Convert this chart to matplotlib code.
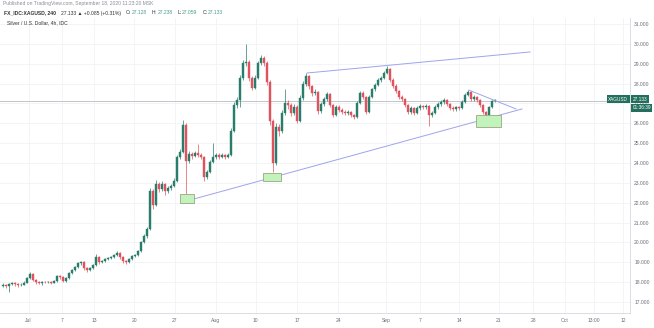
import numpy as np
import matplotlib
matplotlib.use("Agg")
import matplotlib.pyplot as plt
from matplotlib.patches import Rectangle

plt.rcParams["font.family"] = ["Liberation Sans", "DejaVu Sans"]

# -----------------------------
# XAGUSD 4h candles (each entry ~ half a day), Jun 26 -> Sep 18 2020
# -----------------------------
closes = [
    17.85, 17.80, 17.90, 17.95, 17.90, 17.85, 17.88, 17.98, 18.20, 18.40,
    18.10, 18.00, 17.98, 18.02, 18.00, 18.02, 17.98, 18.05, 18.30, 18.25,
    18.05, 18.20, 18.45, 18.60, 18.75, 18.95, 19.00, 18.70, 18.60, 18.70,
    18.85, 19.25, 19.00, 19.05, 19.15, 19.20, 19.25, 19.35, 19.45, 19.25,
    19.05, 19.00, 19.15, 19.30, 19.35, 19.55, 20.00, 20.30, 20.70, 22.60,
    21.90, 22.95, 22.70, 22.95, 22.60, 22.75, 22.85, 23.10, 24.30, 24.55,
    25.90, 24.10, 24.45, 24.35, 24.50, 24.40, 24.30, 23.30, 23.55, 24.05,
    24.30, 24.40, 24.30, 24.40, 24.30, 24.40, 25.60, 26.90, 27.15, 28.30,
    29.05, 29.10, 28.30, 27.80, 28.30, 29.05, 29.30, 29.05, 28.10, 26.10,
    24.00, 25.80, 25.60, 26.50, 27.00, 26.90, 26.50, 26.80, 26.10, 27.25,
    28.00, 28.40, 27.90, 27.50, 27.55, 26.60, 26.95, 27.20, 27.45, 26.90,
    26.40, 26.80, 26.65, 26.55, 26.50, 26.55, 26.40, 26.30, 27.00, 27.50,
    27.30, 26.55, 27.30, 27.70, 27.95, 28.20, 28.30, 28.55, 28.75, 28.20,
    27.90, 27.60, 27.30, 27.20, 26.90, 26.55, 26.75, 26.50, 26.75, 26.85,
    26.80, 26.85, 26.40, 26.50, 26.80, 26.95, 27.05, 27.15, 26.95, 26.75,
    26.70, 26.80, 26.75, 27.05, 27.40, 27.55, 27.20, 27.30, 27.15, 26.90,
    26.55, 26.40, 26.80, 27.128, 27.133,
]
highs = [
    17.95, 17.92, 17.98, 18.02, 18.00, 17.95, 17.95, 18.05, 18.28, 18.50,
    18.45, 18.15, 18.06, 18.08, 18.08, 18.08, 18.06, 18.12, 18.38, 18.36,
    18.30, 18.26, 18.52, 18.68, 18.82, 19.02, 19.08, 19.05, 18.76, 18.78,
    18.92, 19.40, 19.30, 19.12, 19.22, 19.28, 19.32, 19.42, 19.55, 19.50,
    19.30, 19.10, 19.22, 19.38, 19.42, 19.62, 20.08, 20.40, 20.80, 22.75,
    22.70, 23.15, 23.05, 23.10, 23.00, 22.85, 22.95, 23.25, 24.40, 24.70,
    26.15, 26.00, 24.60, 24.55, 24.62, 24.95, 24.48, 24.35, 23.65, 24.15,
    25.00, 24.50, 24.48, 24.48, 24.46, 24.50, 25.75, 27.05, 27.30, 28.45,
    29.20, 30.00, 29.20, 28.40, 28.45, 29.15, 29.45, 29.40, 29.15, 28.20,
    26.20, 26.00, 25.95, 26.65, 27.70, 27.15, 27.00, 26.95, 26.90, 27.40,
    28.15, 28.55, 28.45, 27.95, 27.70, 27.60, 27.05, 27.30, 27.55, 27.50,
    26.95, 26.90, 26.90, 26.75, 26.65, 26.65, 26.62, 26.48, 27.10, 27.62,
    27.60, 27.35, 27.40, 27.80, 28.05, 28.30, 28.40, 28.65, 28.90, 28.80,
    28.28, 27.98, 27.68, 27.40, 27.28, 26.98, 26.85, 26.82, 26.85, 26.95,
    26.92, 26.95, 26.90, 26.62, 26.90, 27.05, 27.15, 27.25, 27.20, 27.00,
    26.85, 26.88, 26.88, 27.15, 27.50, 27.65, 27.60, 27.40, 27.38, 27.20,
    26.95, 26.60, 26.88, 27.15, 27.238,
]
lows = [
    17.75, 17.72, 17.50, 17.85, 17.82, 17.78, 17.80, 17.84, 17.95, 18.15,
    18.05, 17.92, 17.90, 17.85, 17.94, 17.95, 17.92, 17.94, 18.02, 18.18,
    18.00, 18.02, 18.16, 18.40, 18.55, 18.70, 18.88, 18.62, 18.52, 18.55,
    18.65, 18.80, 18.92, 18.95, 19.00, 19.10, 19.14, 19.20, 19.30, 19.18,
    18.98, 18.92, 18.95, 19.10, 19.25, 19.30, 19.50, 19.95, 20.22, 20.65,
    21.70, 21.85, 22.55, 22.60, 22.40, 22.50, 22.65, 22.80, 23.05, 24.20,
    24.50, 22.40, 24.00, 24.20, 24.28, 24.30, 24.20, 23.10, 23.20, 23.50,
    24.00, 24.22, 24.22, 24.24, 24.22, 24.25, 24.35, 25.55, 26.75, 26.80,
    28.20, 28.90, 28.15, 27.65, 27.75, 28.25, 28.95, 28.90, 27.95, 25.90,
    23.55, 23.90, 25.35, 25.50, 26.40, 26.70, 26.35, 26.40, 26.00, 26.05,
    27.15, 27.90, 27.75, 27.35, 27.40, 26.45, 26.50, 26.85, 27.10, 26.80,
    26.30, 26.35, 26.55, 26.45, 26.40, 26.42, 26.30, 26.20, 26.25, 26.95,
    27.20, 26.45, 26.50, 27.25, 27.60, 27.90, 28.10, 28.25, 28.50, 28.10,
    27.80, 27.50, 27.20, 27.10, 26.80, 26.45, 26.45, 26.40, 26.45, 26.68,
    26.70, 26.72, 25.85, 26.30, 26.45, 26.72, 26.88, 26.98, 26.85, 26.65,
    26.62, 26.62, 26.66, 26.70, 27.00, 27.35, 27.10, 27.12, 27.05, 26.80,
    26.45, 26.25, 26.35, 26.75, 27.059,
]
first_open = 17.80

# time axis labels (bar index where each label sits)
tick_pos = [8.5, 19.7, 30.3, 43.7, 57.3, 71, 84.3, 98, 111.7, 127.7,
            139, 152, 165.3, 176.7, 187.3, 197, 206.7]
tick_text = ["Jul", "7", "13", "20", "27", "Aug", "10", "17", "24", "Sep",
             "7", "14", "21", "28", "Oct", "13:00", "12"]
price_ticks = list(range(17, 32))

# drawings: trend lines (bar index, price) and support boxes
upper_line = ([101.3, 175.7], [28.53, 29.59])
lower_line = ([63.7, 173.0], [22.19, 26.72])
short_line = ([155.3, 171.0], [27.67, 26.72])
boxes = [  # (x0, x1, p_low, p_high)
    (59.0, 63.7, 21.99, 22.44),
    (86.7, 92.7, 23.09, 23.50),
    (157.7, 166.0, 25.81, 26.42),
]
last_price = 27.133

UP = "#2b7d6b"
DOWN = "#e0525e"
LABEL_GREEN = "#236e5d"
TEXT_GRAY = "#6a6d78"

opens = [first_open] + closes[:-1]
o = np.array(opens)
c = np.array(closes)
h = np.array(highs)
l = np.array(lows)
x = np.arange(len(c))
up = c >= o
colors = np.where(up, UP, DOWN)

fig = plt.figure(figsize=(6.54, 3.28), dpi=100)
ax = fig.add_axes([0, 15 / 328, 630 / 654, 295 / 328])

# candles: wicks then bodies
ax.vlines(x, l, h, colors=colors, linewidth=0.5, zorder=3)
body_low = np.minimum(o, c)
body_h = np.maximum(np.abs(c - o), 0.03)
ax.bar(x, body_h, bottom=body_low, width=0.62, color=colors,
       edgecolor=colors, linewidth=0.3, zorder=4)

# trend lines
for xs, ys in (upper_line, lower_line, short_line):
    ax.plot(xs, ys, color="#9da5ea", linewidth=0.7, zorder=5)

# support boxes
for x0, x1, p0, p1 in boxes:
    ax.add_patch(Rectangle((x0, p0), x1 - x0, p1 - p0, facecolor="#c3f3bd",
                           edgecolor="#9aa77f", linewidth=0.6, zorder=6))

# last price line
ax.axhline(last_price, color="#b8bac2", linewidth=0.6, zorder=2)

ax.set_xlim(-1, 209)
ax.set_ylim(16.446, 31.30)

ax.set_xticks(tick_pos)
ax.set_xticklabels(tick_text)
ax.set_yticks(price_ticks)
ax.set_yticklabels([f"{p:.3f}" for p in price_ticks])
ax.yaxis.tick_right()
ax.tick_params(axis="both", length=0, labelsize=3.6, colors=TEXT_GRAY)
ax.tick_params(axis="y", pad=3)
ax.tick_params(axis="x", pad=3.5)

ax.grid(True, color="#f1f2f5", linewidth=0.6, zorder=0)
ax.set_axisbelow(True)
for side in ("top", "left"):
    ax.spines[side].set_visible(False)
for side in ("right", "bottom"):
    ax.spines[side].set_color("#d6d8de")
    ax.spines[side].set_linewidth(0.6)

# price axis tags
tag = dict(boxstyle="square,pad=0.3", fc=LABEL_GREEN, ec="none")
ax.text(1.004, last_price + 0.08, "27.133", transform=ax.get_yaxis_transform(),
        ha="left", va="center", fontsize=3.4, color="white", zorder=10,
        bbox=tag, clip_on=False)
ax.text(1.004, last_price - 0.36, "01:36:39", transform=ax.get_yaxis_transform(),
        ha="left", va="center", fontsize=3.4, color="white", zorder=10,
        bbox=tag, clip_on=False)
ax.text(0.997, last_price + 0.08, "XAGUSD", transform=ax.get_yaxis_transform(),
        ha="right", va="center", fontsize=3.4, color="white", zorder=10,
        bbox=tag)

# header lines
def px(xp, yp):
    return xp / 654, 1 - yp / 328

fig.text(*px(3, 4), "Published on TradingView.com, September 18, 2020 11:23:20 MSK",
         fontsize=3.6, color="#8a8d96", va="center")

# second header line: pieces chained one after another
pieces = [("FX_IDC:XAGUSD, 240", "#333333", "bold"),
          ("27.133 \u25b2 +0.085 (+0.31%)", "#333333", "normal"),
          ("O:", "#333333", "normal"), ("27.128", "#4a9d8c", "normal"),
          ("H:", "#333333", "normal"), ("27.238", "#4a9d8c", "normal"),
          ("L:", "#333333", "normal"), ("27.059", "#4a9d8c", "normal"),
          ("C:", "#333333", "normal"), ("27.133", "#4a9d8c", "normal")]
anchor = fig.text(*px(4, 13), pieces[0][0], fontsize=3.6, color=pieces[0][1],
                  fontweight=pieces[0][2], va="center")
for txt, col, wt in pieces[1:]:
    gap = 0.5 if anchor.get_text().endswith(":") else 3.5
    anchor = ax.annotate(txt, xy=(1, 0), xycoords=anchor,
                         xytext=(gap, 0), textcoords="offset points",
                         va="bottom", ha="left", fontsize=3.6, color=col,
                         fontweight=wt, annotation_clip=False)

fig.text(*px(7, 23), "Silver / U.S. Dollar, 4h, IDC", fontsize=3.6,
         color="#333", va="center")

fig.savefig("out.png", dpi=100)
